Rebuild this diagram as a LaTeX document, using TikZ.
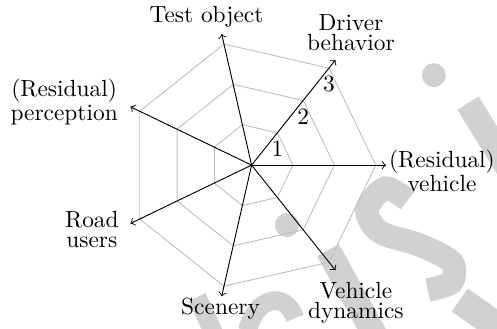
\documentclass[tikz,border=0pt]{standalone}
\usetikzlibrary{positioning}
\begin{document}
\begin{tikzpicture}[x=17.7pt,y=17.7pt,
    grid/.style={gray!50},
    wmark/.style={black!18},
    lbl/.style={align=center,font=\fontsize{10}{8.6}\selectfont}]
  \useasboundingbox (-6.08,-3.94) rectangle (5.93,3.99);
  % watermark in the background
  \begin{scope}
    \clip (-6.08,-3.94) rectangle (5.93,3.99);
    \fill[wmark] (0.853,-1.449) circle (0.29);
    \fill[wmark] (4.403,2.174) circle (0.29);
    \draw[wmark,line width=10.7pt] (1.843,-2.053) -- (3.05,-4.23);
    \draw[wmark,line width=10.7pt] (5.229,1.498) -- (6.4,-0.4);
    \draw[wmark,line width=10pt] plot[smooth] coordinates {(3.775,-0.845) (3.220,-0.556) (2.785,-1.087) (3.099,-1.618) (4.065,-1.932) (4.838,-2.343) (4.838,-2.826) (4.258,-3.019)};
    \draw[wmark,line width=12pt] (5.03,-3.26) -- (6.3,-4.15);
    \draw[wmark,line width=8pt] (-1.32,-3.19) -- (-0.89,-4.11);
    \draw[wmark,line width=8pt] (-0.1,-4.0) .. controls (0.1,-3.2) and (0.8,-3.0) .. (1.05,-3.7);
  \end{scope}
  % grid
  \foreach \r in {1,2,3}
    \draw[grid] (0:\r) -- (51.43:\r) -- (102.86:\r) -- (154.29:\r)
      -- (205.71:\r) -- (257.14:\r) -- (308.57:\r) -- cycle;
  % axes
  \coordinate (c) at (0,0);
  \draw
    (0:3.25) coordinate (a0)
    (51.43:3.25) coordinate (a1)
    (102.86:3.25) coordinate (a2)
    (154.29:3.25) coordinate (a3)
    (205.71:3.25) coordinate (a4)
    (257.14:3.25) coordinate (a5)
    (308.57:3.25) coordinate (a6);
  \begin{scope}[->]
    \draw (c) to (a0);
    \draw (c) to (a1);
    \draw (c) to (a2);
    \draw (c) to (a3);
    \draw (c) to (a4);
    \draw (c) to (a5);
    \draw (c) to (a6);
  \end{scope}
  % scale
  \node[below] (s1) at (51.43:1) {1};
  \node[below] (s2) at (51.43:2) {2};
  \node[below] (s3) at (51.43:3) {3};
  % labels
  \node[lbl] (vehicle) at (4.60,-0.145) {(Residual)\\vehicle};
  \node[lbl] (driver) at (2.40,3.21) {Driver\\behavior};
  \node[lbl] (object) at (-1.09,3.59) {Test object};
  \node[lbl] (perception) at (-4.53,1.53) {(Residual)\\perception};
  \node[lbl] (road) at (-3.86,-1.55) {Road\\users};
  \node[lbl] (scenery) at (-0.75,-3.48) {Scenery};
  \node[lbl] (dynamics) at (2.52,-3.33) {Vehicle\\dynamics};
\end{tikzpicture}
\end{document}
